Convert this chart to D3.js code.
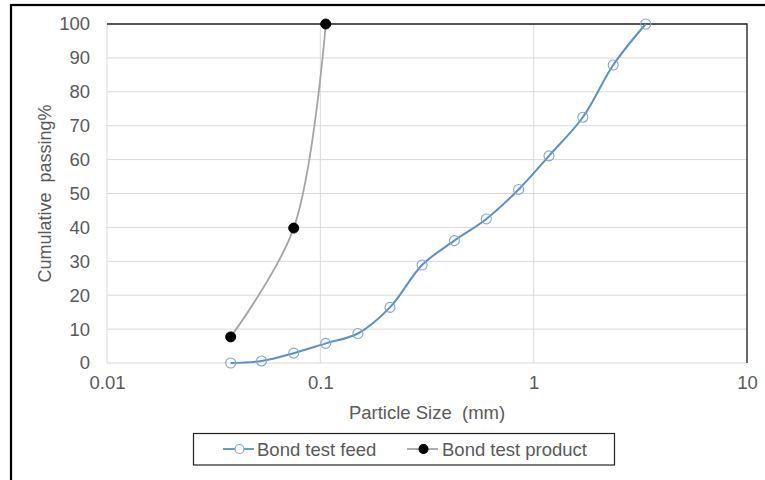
<!DOCTYPE html>
<html>
<head>
<meta charset="utf-8">
<script src="https://cdn.jsdelivr.net/npm/d3@7"></script>
<style>
  html, body { margin: 0; padding: 0; background: #fff; }
  svg { display: block; font-family: "Liberation Sans", Arial, sans-serif; }
</style>
</head>
<body>
<svg id="chart" width="765" height="480"></svg>
<script>
// Sieve sizes (mm) and cumulative passing (%)
const feedSize = [0.038, 0.053, 0.075, 0.106, 0.15, 0.212, 0.3, 0.425, 0.6, 0.85, 1.18, 1.7, 2.36, 3.35];
const feedPassing = [0, 0.6, 2.9, 5.8, 8.7, 16.4, 28.9, 36.1, 42.5, 51.2, 61.1, 72.5, 87.9, 100];
const productSize = [0.038, 0.075, 0.106];
const productPassing = [7.7, 39.8, 100];
const xTicks = [0.01, 0.1, 1, 10];
const yTicks = [0, 10, 20, 30, 40, 50, 60, 70, 80, 90, 100];
const seriesNames = ["Bond test feed", "Bond test product"];

const svg = d3.select("#chart");
const plot = { left: 107, top: 24, right: 747, bottom: 363 };
const textColor = "#595959";
const feedColor = "#5b8fc9";
const productColor = "#a5a5a5";
const fontSize = 18.5;

const x = d3.scaleLog().domain([0.01, 10]).range([plot.left, plot.right]);
const y = d3.scaleLinear().domain([0, 100]).range([plot.bottom, plot.top]);

// outer chart frame
svg.append("rect")
  .attr("x", 11).attr("y", 5).attr("width", 800).attr("height", 600)
  .attr("fill", "none").attr("stroke", "#000").attr("stroke-width", 2.2);

// gridlines
svg.append("g").selectAll("line").data(yTicks).join("line")
  .attr("x1", plot.left).attr("x2", plot.right)
  .attr("y1", d => y(d)).attr("y2", d => y(d))
  .attr("stroke", "#d9d9d9").attr("stroke-width", 1);
svg.append("g").selectAll("line").data(xTicks).join("line")
  .attr("x1", d => x(d)).attr("x2", d => x(d))
  .attr("y1", plot.top).attr("y2", plot.bottom)
  .attr("stroke", "#d9d9d9").attr("stroke-width", 1);

// plot area edges: dark on top and right
svg.append("path")
  .attr("d", `M${plot.left},${plot.top}H${plot.right}V${plot.bottom}`)
  .attr("fill", "none").attr("stroke", "#222").attr("stroke-width", 1.3);

// y axis labels
const yAxis = d3.axisLeft(y).tickValues(yTicks).tickSize(0).tickPadding(17);
const gy = svg.append("g").attr("transform", `translate(${plot.left},0)`).call(yAxis);
gy.select(".domain").remove();
gy.selectAll("text").attr("fill", textColor).attr("font-size", fontSize)
  .attr("font-family", "Liberation Sans, Arial, sans-serif");

// x axis labels
const xAxis = d3.axisBottom(x).tickValues(xTicks).tickFormat(d => String(d)).tickSize(0).tickPadding(13);
const gx = svg.append("g").attr("transform", `translate(0,${plot.bottom})`).call(xAxis);
gx.select(".domain").remove();
gx.selectAll("text").attr("fill", textColor).attr("font-size", fontSize)
  .attr("font-family", "Liberation Sans, Arial, sans-serif");

// axis titles
svg.append("text")
  .attr("x", (plot.left + plot.right) / 2).attr("y", 419)
  .attr("text-anchor", "middle").attr("fill", textColor).attr("font-size", fontSize)
  .attr("xml:space", "preserve")
  .text("Particle Size  (mm)");
svg.append("text")
  .attr("transform", `translate(51,${(plot.top + plot.bottom) / 2}) rotate(-90)`)
  .attr("text-anchor", "middle").attr("fill", textColor).attr("font-size", 18)
  .attr("xml:space", "preserve")
  .text("Cumulative  passing%");

// series
const feed = feedSize.map((s, i) => [s, feedPassing[i]]);
const product = productSize.map((s, i) => [s, productPassing[i]]);
const line = d3.line().x(d => x(d[0])).y(d => y(d[1])).curve(d3.curveCatmullRom.alpha(0.5));

svg.append("path").datum(product).attr("d", line)
  .attr("fill", "none").attr("stroke", productColor).attr("stroke-width", 1.8);
svg.append("path").datum(feed).attr("d", line)
  .attr("fill", "none").attr("stroke", feedColor).attr("stroke-width", 2);

svg.append("g").selectAll("circle").data(feed).join("circle")
  .attr("cx", d => x(d[0])).attr("cy", d => y(d[1])).attr("r", 5)
  .attr("fill", "none").attr("stroke", "#7ea6d4").attr("stroke-width", 1.1);
svg.append("g").selectAll("circle").data(product).join("circle")
  .attr("cx", d => x(d[0])).attr("cy", d => y(d[1])).attr("r", 5)
  .attr("fill", "#000").attr("stroke", "#000");

// legend
const lg = svg.append("g");
lg.append("rect").attr("x", 193.5).attr("y", 433.5).attr("width", 421).attr("height", 31.5)
  .attr("fill", "#fff").attr("stroke", "#222").attr("stroke-width", 1.2);
const legendItems = [
  { name: seriesNames[0], x0: 223, color: feedColor, fill: "none", mstroke: "#7ea6d4", tx: 257 },
  { name: seriesNames[1], x0: 407, color: productColor, fill: "#000", mstroke: "#000", tx: 442 }
];
legendItems.forEach(it => {
  lg.append("line").attr("x1", it.x0).attr("x2", it.x0 + 31).attr("y1", 449).attr("y2", 449)
    .attr("stroke", it.color).attr("stroke-width", 1.8);
  lg.append("circle").attr("cx", it.x0 + 16.5).attr("cy", 449).attr("r", 4.5)
    .attr("fill", it.fill === "none" ? "#fff" : it.fill).attr("stroke", it.mstroke).attr("stroke-width", 1.1);
  lg.append("text").attr("x", it.tx).attr("y", 455.5).attr("fill", textColor).attr("font-size", fontSize)
    .text(it.name);
});
</script>
</body>
</html>
